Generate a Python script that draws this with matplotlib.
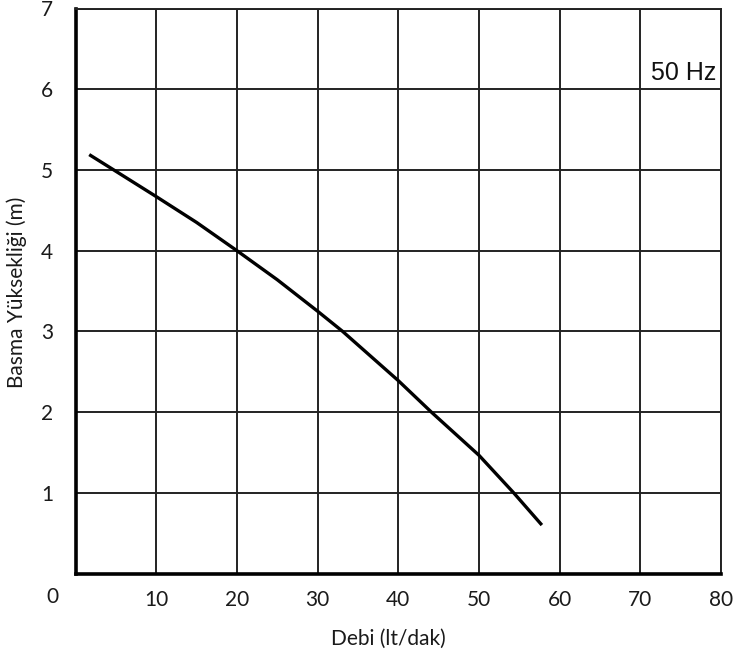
import matplotlib
matplotlib.use("Agg")
import matplotlib.pyplot as plt

# pompa karakteristik eğrisi
debi = [1.7, 4.74, 10, 15, 20, 25, 30, 33.1, 40, 44.1, 50, 54.3, 57.8]
basma = [5.19, 5.0, 4.67, 4.35, 4.0, 3.64, 3.25, 3.0, 2.39, 2.0, 1.465, 1.0, 0.6]

x_ticks = [0, 10, 20, 30, 40, 50, 60, 70, 80]
y_ticks = [0, 1, 2, 3, 4, 5, 6, 7]

plt.rcParams["font.family"] = ["Lato", "DejaVu Sans"]
txt_color = "#1a1a1a"

fig = plt.figure(figsize=(7.38, 6.61), dpi=100)
ax = fig.add_axes([75.5 / 738, 87.5 / 661, 645.5 / 738, 565 / 661])

ax.plot(debi, basma, color="black", linewidth=2.4, solid_capstyle="butt",
        solid_joinstyle="round")

ax.set_xlim(0, 80)
ax.set_ylim(0, 7)
ax.set_xticks(x_ticks)
ax.set_yticks(y_ticks)
ax.set_xticklabels([""] + [str(v) for v in x_ticks[1:]])
ax.set_yticklabels([""] + [str(v) for v in y_ticks[1:]])
ax.tick_params(length=0, labelsize=15, colors=txt_color)
ax.tick_params(axis="x", pad=12)
ax.tick_params(axis="y", pad=16)
ax.grid(True, color="#222222", linewidth=1.4)

for s in ["left", "bottom"]:
    ax.spines[s].set_linewidth(2.6)
for s in ["top", "right"]:
    ax.spines[s].set_linewidth(1.4)
    ax.spines[s].set_color("#222222")

fig.text(52 / 738, 1 - 597 / 661, "0", fontsize=15, color=txt_color,
         ha="center", va="center")

ax.text(79.4, 6.12, "50 Hz", fontsize=18, family="Liberation Sans",
        ha="right", va="baseline", color="#111111")

fig.text(17 / 738, 1 - 292 / 661, "Basma Yüksekliği (m)", fontsize=15,
         rotation=90, ha="center", va="center", color=txt_color)
fig.text(388 / 738, 1 - 639 / 661, "Debi (lt/dak)", fontsize=15,
         ha="center", va="center", color=txt_color)

fig.savefig("out.png", dpi=100)
